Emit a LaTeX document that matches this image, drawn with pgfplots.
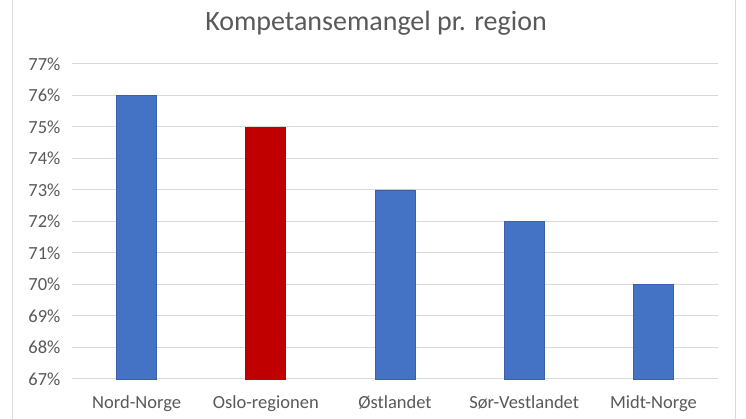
\documentclass[border=0pt]{standalone}
\usepackage{pgfplots}
\pgfplotsset{compat=1.18}
\usepackage{fontspec}
\setmainfont{Carlito}
\definecolor{barblue}{HTML}{4472C4}
\definecolor{barred}{HTML}{C00000}
\definecolor{txt}{HTML}{595959}
\definecolor{gridc}{HTML}{D9D9D9}
\begin{document}
\begin{tikzpicture}
\useasboundingbox (0pt,0pt) rectangle (746pt,419pt);
\fill[white] (0pt,0pt) rectangle (746pt,419pt);
\draw[gridc, line width=1pt] (12pt,-2pt) -- (12pt,421pt);
\draw[gridc, line width=1pt] (735pt,-2pt) -- (735pt,421pt);
\node[txt, font=\fontsize{28}{32}\selectfont] at (376pt,396pt) {Kompetansemangel pr. region};
\begin{axis}[
    at={(72pt,40pt)}, anchor=south west,
    width=646pt, height=315pt, scale only axis,
    xmin=-0.5, xmax=4.5,
    ymin=67, ymax=77,
    ytick={67,68,...,77},
    yticklabel={\pgfmathprintnumber{\tick}\%},
    xtick={0,1,2,3,4},
    xticklabels={Nord-Norge, Oslo-regionen, Østlandet, Sør-Vestlandet, Midt-Norge},
    ymajorgrids=true,
    grid style={gridc, line width=1pt},
    axis line style={draw=none},
    axis x line*=bottom,
    x axis line style={gridc, line width=1pt},
    major tick length=0pt,
    tick style={draw=none},
    ticklabel style={txt, font=\fontsize{18.5}{22}\selectfont},
    yticklabel style={xshift=-8pt},
    xticklabel style={yshift=-13pt},
    /pgf/number format/assume math mode=true,
    ybar, bar width=40pt,
    clip=false,
]
\addplot[fill=barblue, draw=barblue!85!black, line width=0.8pt, bar shift=0pt] coordinates {(0,76) (2,73) (3,72) (4,70)};
\addplot[fill=barred, draw=barred, line width=0.8pt, bar shift=0pt] coordinates {(1,75)};
\end{axis}
\end{tikzpicture}
\end{document}
